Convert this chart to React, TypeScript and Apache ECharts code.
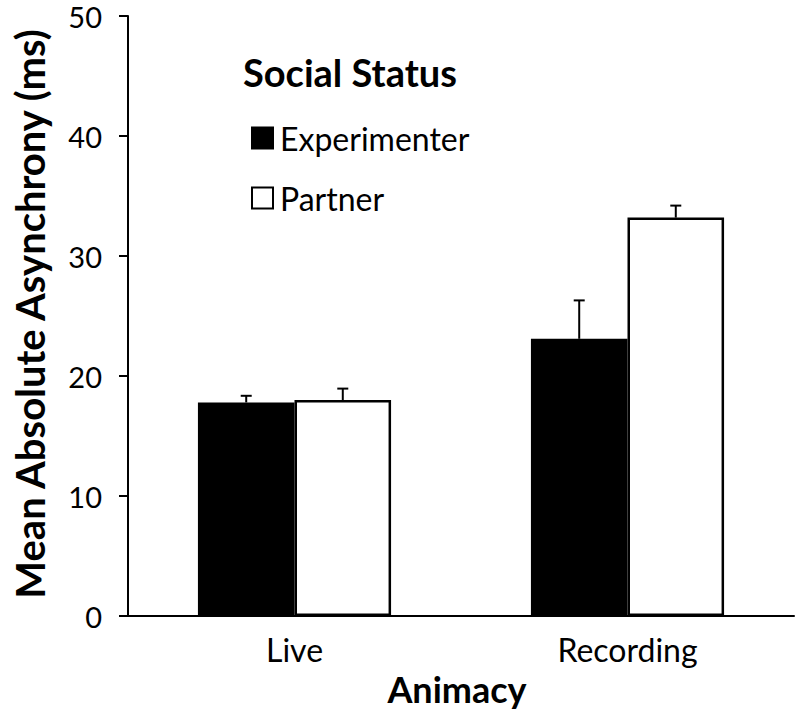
import React, { useEffect, useRef } from "react";
import * as echarts from "echarts";

const categories = ["Live", "Recording"];
const experimenterMeans = [17.8, 23.1];
const experimenterErrors = [0.55, 3.2];
const partnerMeans = [18.0, 33.2];
const partnerErrors = [0.95, 1.0];
const yTicks = [0, 10, 20, 30, 40, 50];
const xTitle = "Animacy";
const yTitle = "Mean Absolute Asynchrony (ms)";
const legendTitle = "Social Status";

const FONT = "Lato, 'Open Sans', sans-serif";

export default function App() {
  const ref = useRef<HTMLDivElement>(null);
  useEffect(() => {
    document.body.style.margin = "0";
    if (!ref.current) return;
    const chart = echarts.init(ref.current, null, { renderer: "svg" });
    const gapPct = 0.42;
    const makeErr = (means: number[], errs: number[], side: number) => ({
      type: "custom",
      z: 5,
      silent: true,
      data: means.map((m, i) => [i, m, m + errs[i]]),
      encode: { x: 0, y: [1, 2] },
      renderItem: (params: any, api: any) => {
        const band = api.size([1, 0])[0];
        const bw = (band * (1 - gapPct)) / 2;
        const c = api.value(0);
        const lo = api.coord([c, api.value(1)]);
        const hi = api.coord([c, api.value(2)]);
        const x = lo[0] + (side * bw) / 2;
        const cap = 5.5;
        return {
          type: "group",
          children: [
            { type: "line", shape: { x1: x, y1: lo[1], x2: x, y2: hi[1] }, style: { stroke: "#000", lineWidth: 2 } },
            { type: "line", shape: { x1: x - cap, y1: hi[1], x2: x + cap, y2: hi[1] }, style: { stroke: "#000", lineWidth: 2 } },
          ],
        };
      },
    });
    chart.setOption({
      animation: false,
      backgroundColor: "#fff",
      textStyle: { fontFamily: FONT },
      grid: { left: 128, right: 6, top: 16, bottom: 100, containLabel: false, outerBoundsMode: "none" },
      legend: {
        orient: "vertical",
        left: 246,
        top: 117,
        itemWidth: 21,
        itemHeight: 21,
        itemGap: 28,
        icon: "rect",
        textStyle: { fontFamily: FONT, fontSize: 32, lineHeight: 32, color: "#000", padding: [0, 0, 0, 2] },
        data: ["Experimenter", "Partner"],
      },
      graphic: [
        {
          type: "text",
          left: 243,
          top: 53,
          style: { text: legendTitle, font: `bold 38px ${FONT}`, fill: "#000" },
        },
        {
          type: "text",
          x: 457,
          y: 689,
          style: {
            text: xTitle,
            font: `bold 36px ${FONT}`,
            fill: "#000",
            textAlign: "center",
            textVerticalAlign: "middle",
          },
        },
        {
          type: "text",
          x: 30,
          y: 314,
          rotation: Math.PI / 2,
          style: {
            text: yTitle,
            font: `bold 40px ${FONT}`,
            fill: "#000",
            textAlign: "center",
            textVerticalAlign: "middle",
          },
        },
      ],
      xAxis: {
        type: "category",
        data: categories,
        axisLine: { lineStyle: { color: "#000", width: 2 } },
        axisTick: { show: false },
        axisLabel: { fontFamily: FONT, fontSize: 32, color: "#000", margin: 17 },
      },
      yAxis: {
        type: "value",
        min: yTicks[0],
        max: yTicks[yTicks.length - 1],
        interval: 10,
        axisLine: { show: true, lineStyle: { color: "#000", width: 2 } },
        axisTick: { show: true, length: 9, lineStyle: { color: "#000", width: 2 } },
        axisLabel: { fontFamily: FONT, fontSize: 29, lineHeight: 24, color: "#000", margin: 26 },
        splitLine: { show: false },
      },
      series: [
        {
          name: "Experimenter",
          type: "bar",
          data: experimenterMeans,
          barGap: "0%",
          barCategoryGap: "42%",
          itemStyle: { color: "#000", borderColor: "#000", borderWidth: 2 },
        },
        {
          name: "Partner",
          type: "bar",
          data: partnerMeans,
          barGap: "0%",
          barCategoryGap: "42%",
          itemStyle: { color: "#fff", borderColor: "#000", borderWidth: 2.5 },
        },
        makeErr(experimenterMeans, experimenterErrors, -1),
        makeErr(partnerMeans, partnerErrors, 1),
      ],
    });
    return () => chart.dispose();
  }, []);
  return <div ref={ref} style={{ width: 800, height: 716 }} />;
}
